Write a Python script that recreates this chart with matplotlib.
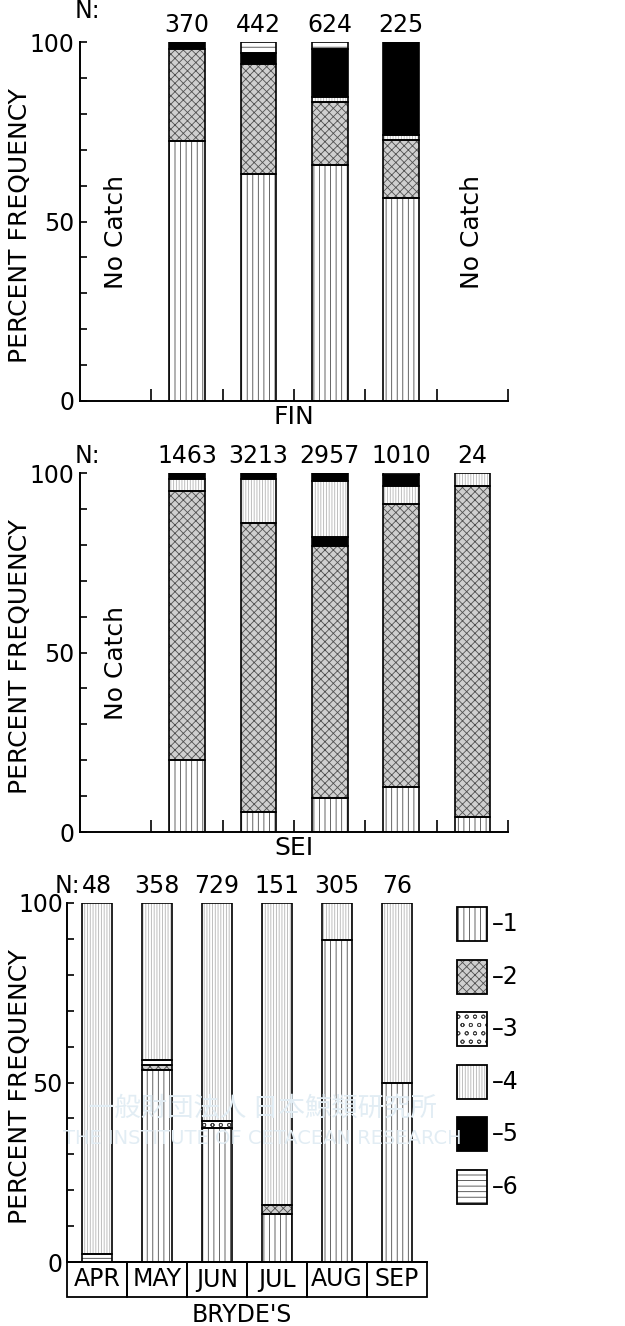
import matplotlib
matplotlib.use("Agg")
import matplotlib.pyplot as plt
import matplotlib.transforms as mtransforms
from matplotlib.patches import Rectangle
from matplotlib.ticker import MultipleLocator

months = ["APR", "MAY", "JUN", "JUL", "AUG", "SEP"]

# sample size per month, None = no catch
fin_n = [None, 370, 442, 624, 225, None]
sei_n = [None, 1463, 3213, 2957, 1010, 24]
bryde_n = [48, 358, 729, 151, 305, 76]

# category of each stacked piece (bottom to top) and its percent
fin_cats = [[], [1, 2, 5], [1, 2, 5, 6], [1, 2, 4, 5, 6], [1, 2, 4, 5], []]
fin_pct = [[], [72.5, 25.6, 1.9], [63.2, 30.8, 2.8, 3.2],
           [65.6, 17.7, 1.4, 13.4, 1.9], [56.5, 16.2, 1.4, 25.9], []]

sei_cats = [[], [1, 2, 4, 5], [1, 2, 4, 5], [1, 2, 5, 4, 5], [1, 2, 4, 5, 6], [1, 2, 4]]
sei_pct = [[], [20.0, 74.9, 3.4, 1.7], [5.6, 80.6, 12.1, 1.7],
           [9.6, 70.1, 2.4, 15.6, 2.3], [12.4, 79.0, 4.9, 3.2, 0.5], [4.2, 92.1, 3.7]]

bryde_cats = [[6, 4], [1, 2, 3, 4], [1, 3, 4], [1, 2, 4], [1, 4], [1, 4]]
bryde_pct = [[2.3, 97.7], [53.5, 1.5, 1.3, 43.7], [37.2, 2.1, 60.7],
             [13.5, 2.3, 84.2], [89.8, 10.2], [50.0, 50.0]]

legend_cats = [1, 2, 3, 4, 5, 6]
legend_labels = ["–1", "–2", "–3", "–4", "–5", "–6"]

# face colour, hatch, hatch colour per category
STYLE = {
    1: ("white", "|||", "#4a4a4a"),
    2: ("#cfcfcf", "xxxx", "#505050"),
    3: ("white", "oo", "#444444"),
    4: ("white", "||||||", "#b4b4b4"),
    5: ("black", "", "black"),
    6: ("white", "---", "#444444"),
}

plt.rcParams['font.family'] = ['DejaVu Sans']
plt.rcParams['hatch.linewidth'] = 0.6

W, H = 625, 1326


def px_axes(fig, x0, x1, ytop, ybot):
    return fig.add_axes([x0 / W, 1 - ybot / H, (x1 - x0) / W, (ybot - ytop) / H])


def draw_piece(ax, x, bottom, h, cat, width):
    face, hatch, hcol = STYLE[cat]
    ax.bar(x, h, width, bottom=bottom, color=face, hatch=hatch,
           edgecolor=hcol, linewidth=0, zorder=2)
    ax.bar(x, h, width, bottom=bottom, fill=False, edgecolor="black",
           linewidth=1.2, zorder=3)


def draw_panel(ax, n_list, cats, pcts, n_colon, label_x, tick_pad):
    ax.set_xlim(0, 6)
    ax.set_ylim(0, 100)
    ax.patch.set_alpha(0)

    for i in range(len(months)):
        bottom = 0
        for cat, val in zip(cats[i], pcts[i]):
            draw_piece(ax, i + 0.5, bottom, val, cat, 0.5)
            bottom += val
        if n_list[i] is None:
            ax.text(i + 0.5, 47, "No Catch", rotation=90, ha="center",
                    va="center", fontsize=18)
        else:
            ax.text(i + 0.5, 104.8, str(n_list[i]), ha="center", va="center",
                    fontsize=17)
    nx, ny, nha = n_colon
    ax.text(nx, ny, "N:", ha=nha, va="center", fontsize=17)

    ax.spines["top"].set_visible(False)
    ax.spines["right"].set_visible(False)
    ax.spines["left"].set_linewidth(1.4)
    ax.spines["bottom"].set_linewidth(1.4)

    ax.set_yticks([0, 50, 100])
    ax.yaxis.set_minor_locator(MultipleLocator(10))
    ax.tick_params(axis="y", which="both", direction="in", length=5,
                   width=1.2, labelsize=17, pad=tick_pad)

    ax.set_ylabel("PERCENT FREQUENCY", fontsize=18)
    ax.yaxis.set_label_coords(label_x, 0.49)


fig = plt.figure(figsize=(W / 100, H / 100), dpi=100)

# FIN
ax1 = px_axes(fig, 80, 508, 42, 401)
draw_panel(ax1, fin_n, fin_cats, fin_pct, (-0.08, 108.5, "left"), -0.112, 4)
ax1.set_xticks([1, 2, 3, 4, 5, 6])
ax1.tick_params(axis="x", direction="in", length=9, width=1.2, labelbottom=False)
ax1.text(0.5, -0.045, "FIN", transform=ax1.transAxes, ha="center",
         va="center", fontsize=18)

# SEI
ax2 = px_axes(fig, 80, 508, 473, 832)
draw_panel(ax2, sei_n, sei_cats, sei_pct, (-0.08, 104.8, "left"), -0.112, 4)
ax2.set_xticks([1, 2, 3, 4, 5, 6])
ax2.tick_params(axis="x", direction="in", length=9, width=1.2, labelbottom=False)
ax2.text(0.5, -0.045, "SEI", transform=ax2.transAxes, ha="center",
         va="center", fontsize=18)

# BRYDE'S
ax3 = px_axes(fig, 67, 427, 903, 1262)
draw_panel(ax3, bryde_n, bryde_cats, bryde_pct, (0.22, 104.8, "right"), -0.097, 3)
ax3.set_xticks([])
trans = mtransforms.blended_transform_factory(ax3.transData, ax3.transAxes)
box_h = 35 / 359
for i, m in enumerate(months):
    ax3.add_patch(Rectangle((i, -box_h), 1, box_h, transform=trans, fill=False,
                            edgecolor="black", linewidth=1.3, clip_on=False))
    ax3.text(i + 0.5, -box_h / 2, m, transform=trans, ha="center",
             va="center", fontsize=17)
ax3.text(0.486, -0.148, "BRYDE'S", transform=ax3.transAxes, ha="center",
         va="center", fontsize=17)

# legend
axl = px_axes(fig, 450, 560, 900, 1215)
axl.set_xlim(0, 110)
axl.set_ylim(315, 0)
axl.axis("off")
for i, (cat, lab) in enumerate(zip(legend_cats, legend_labels)):
    top = 7 + i * 52.6
    face, hatch, hcol = STYLE[cat]
    axl.add_patch(Rectangle((7, top), 30, 34, facecolor=face, hatch=hatch,
                            edgecolor=hcol, linewidth=0))
    axl.add_patch(Rectangle((7, top), 30, 34, fill=False, edgecolor="black",
                            linewidth=1.3))
    axl.text(42, top + 17, lab, ha="left", va="center", fontsize=17)

# faint watermark of the scanned page
fig.text(262 / W, 1 - 1108 / H, "一般財団法人 日本鯨類研究所", ha="center",
         va="center", fontsize=19, color="#e2edf4", zorder=10,
         family=["Noto Sans CJK JP", "DejaVu Sans"])
fig.text(262 / W, 1 - 1138 / H, "THE INSTITUTE OF CETACEAN RESEARCH",
         ha="center", va="center", fontsize=14, color="#e2edf4", zorder=10)

plt.savefig("out.png", dpi=100)
